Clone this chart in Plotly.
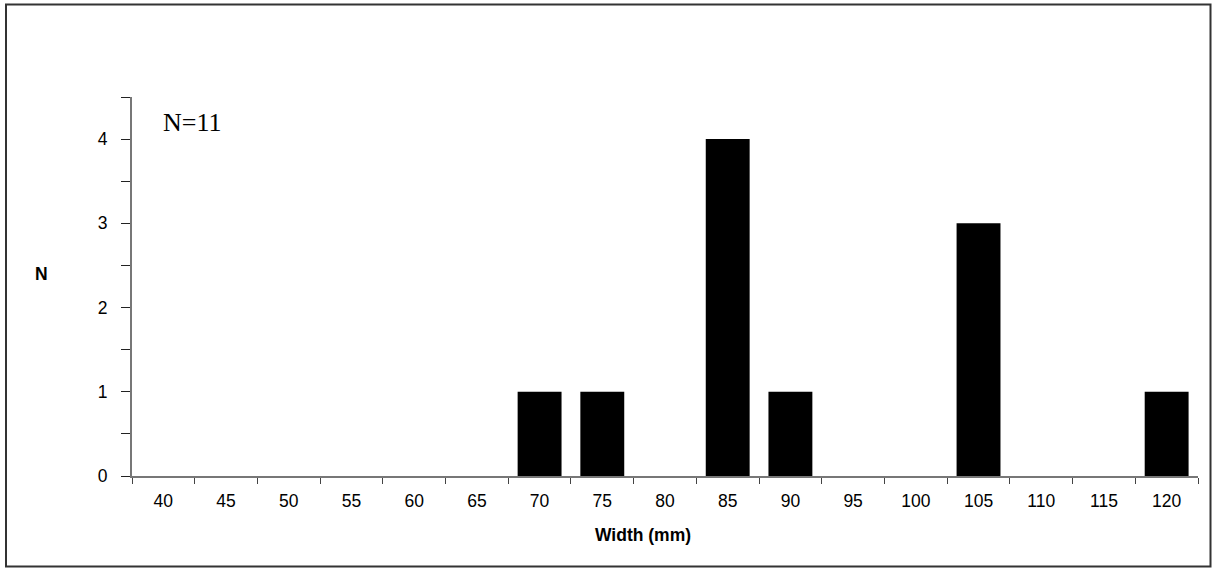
import plotly.graph_objects as go

# Width classes (mm) and counts per class
widths = ["40", "45", "50", "55", "60", "65", "70", "75", "80", "85",
          "90", "95", "100", "105", "110", "115", "120"]
counts = [0, 0, 0, 0, 0, 0, 1, 1, 0, 4, 1, 0, 0, 3, 0, 0, 1]
sample_label = "N=11"
x_title = "Width (mm)"
y_title = "N"

W, H = 1212, 569
L, R, T, B = 132, 14, 97, 93
pw, ph = W - L - R, H - T - B

SANS = "Liberation Sans, Arial, sans-serif"
SERIF = "Liberation Serif, Times New Roman, serif"

fig = go.Figure()
fig.add_trace(go.Bar(
    x=widths, y=counts,
    marker=dict(color="black", line=dict(width=0)),
    width=0.7,
    hoverinfo="x+y",
))

axis_font = dict(family=SANS, size=17.5, color="black")

fig.update_layout(
    width=W, height=H,
    margin=dict(l=L, r=R, t=T, b=B),
    paper_bgcolor="white", plot_bgcolor="white",
    showlegend=False,
    xaxis=dict(
        type="category",
        categoryorder="array", categoryarray=widths,
        range=[-0.5, len(widths) - 0.5],
        tickson="boundaries",
        ticks="outside", ticklen=6, tickcolor="#444444", tickwidth=1,
        showline=True, linecolor="#777777", linewidth=2,
        showgrid=False, zeroline=False,
        tickfont=axis_font,
        ticklabelstandoff=8,
    ),
    yaxis=dict(
        range=[0, 4.5],
        tickvals=[0, 1, 2, 3, 4],
        ticks="outside", ticklen=9, tickcolor="#222222", tickwidth=1,
        minor=dict(tickvals=[0.5, 1.5, 2.5, 3.5, 4.5], ticks="outside", ticklen=9,
                   tickcolor="#222222", tickwidth=1, showgrid=False),
        showline=True, linecolor="#777777", linewidth=2,
        showgrid=False, zeroline=False,
        tickfont=axis_font,
        ticklabelstandoff=10,
    ),
)

# Axis titles
fig.add_annotation(
    text="<b>%s</b>" % x_title, xref="paper", yref="paper",
    x=(643 - L) / pw, y=(476 - 535) / ph,
    xanchor="center", yanchor="middle", showarrow=False,
    font=dict(family=SANS, size=17.5, color="black"),
)
fig.add_annotation(
    text="<b>%s</b>" % y_title, xref="paper", yref="paper",
    x=(41 - L) / pw, y=(476 - 274) / ph,
    xanchor="center", yanchor="middle", showarrow=False,
    font=dict(family=SANS, size=17.5, color="black"),
)

# Sample size note inside the plot area
fig.add_annotation(
    text=sample_label, xref="paper", yref="paper",
    x=(161 - L) / pw, y=(476 - 122) / ph,
    xanchor="left", yanchor="middle", showarrow=False,
    font=dict(family=SERIF, size=26, color="black"),
)

# Outer frame around the whole chart
fig.add_shape(
    type="rect", xref="paper", yref="paper",
    x0=(6 - L) / pw, x1=(1210.5 - L) / pw,
    y0=(476 - 566.5) / ph, y1=(476 - 4.5) / ph,
    line=dict(color="#333333", width=2), fillcolor="rgba(0,0,0,0)",
    layer="below",
)

fig.write_html("out.html")
